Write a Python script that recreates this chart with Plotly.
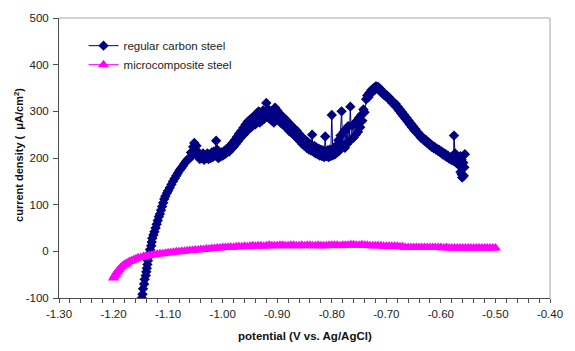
import plotly.graph_objects as go

# ---------------- data ----------------
carbon_x = [
    # steep rise
    -1.148, -1.147, -1.146, -1.144, -1.143, -1.141, -1.140, -1.139, -1.138, -1.137,
    -1.136, -1.134, -1.133, -1.131, -1.130, -1.129, -1.127, -1.125, -1.123, -1.121,
    -1.119, -1.117, -1.115, -1.113, -1.111, -1.109, -1.107, -1.105, -1.102, -1.100,
    -1.097, -1.094, -1.091, -1.088, -1.085, -1.082, -1.079, -1.076, -1.073, -1.070,
    -1.067, -1.064, -1.062,
    # noisy plateau, first hump and valley
    -1.060, -1.058, -1.056, -1.054, -1.052, -1.050, -1.048, -1.046, -1.044, -1.042,
    -1.040, -1.038, -1.036, -1.034, -1.032, -1.030, -1.028, -1.026, -1.024, -1.022,
    -1.020, -1.018, -1.016, -1.014, -1.012, -1.010, -1.008, -1.006, -1.004, -1.002,
    -1.000, -0.998, -0.996, -0.994, -0.992, -0.990, -0.988, -0.986, -0.984, -0.982,
    -0.980, -0.978, -0.976, -0.974, -0.972, -0.970, -0.968, -0.966, -0.964, -0.962,
    -0.960, -0.958, -0.956, -0.954, -0.952, -0.950, -0.948, -0.946, -0.944, -0.942,
    -0.940, -0.938, -0.936, -0.934, -0.932, -0.930, -0.928, -0.926, -0.924, -0.922,
    -0.920, -0.918, -0.916, -0.914, -0.912, -0.910, -0.908, -0.906, -0.904, -0.902,
    -0.900, -0.898, -0.896, -0.894, -0.892, -0.890, -0.888, -0.886, -0.884, -0.882,
    -0.880, -0.878, -0.876, -0.874, -0.872, -0.870, -0.868, -0.866, -0.864, -0.862,
    -0.860, -0.858, -0.856, -0.854, -0.852, -0.850, -0.848, -0.846, -0.844, -0.842,
    -0.840, -0.838, -0.836, -0.834, -0.832, -0.830, -0.828, -0.826, -0.824, -0.822,
    -0.820, -0.818, -0.816, -0.814, -0.812, -0.810, -0.808, -0.806, -0.804, -0.802,
    -0.800, -0.798, -0.796, -0.794, -0.792, -0.790, -0.788, -0.786, -0.784, -0.782,
    -0.780, -0.778, -0.776, -0.774, -0.772, -0.770, -0.768, -0.766, -0.764, -0.762,
    -0.760, -0.758, -0.756, -0.754, -0.752, -0.750, -0.748, -0.746, -0.744, -0.742,
    -0.740,
    # second peak and decline
    -0.737, -0.735, -0.733, -0.731, -0.729, -0.727, -0.725, -0.723, -0.721, -0.719,
    -0.717, -0.715, -0.713, -0.711, -0.709, -0.707, -0.705, -0.703, -0.701, -0.699,
    -0.697, -0.695, -0.693, -0.691, -0.689, -0.687, -0.685, -0.683, -0.681, -0.679,
    -0.677, -0.675, -0.673, -0.671, -0.669, -0.667, -0.665, -0.663, -0.661, -0.659,
    -0.657, -0.655, -0.653, -0.651, -0.649, -0.647, -0.645, -0.643, -0.641, -0.639,
    -0.637, -0.635, -0.633, -0.631, -0.629, -0.627, -0.625, -0.623, -0.621, -0.619,
    -0.617, -0.615, -0.613, -0.611, -0.609, -0.607, -0.605, -0.603, -0.601, -0.599,
    -0.597, -0.595, -0.593, -0.591, -0.589, -0.587, -0.585, -0.583, -0.581, -0.579,
    -0.577, -0.576, -0.574, -0.572, -0.570, -0.568, -0.566, -0.564, -0.562, -0.560,
    -0.562, -0.564, -0.561, -0.558, -0.557, -0.559, -0.556,
]
carbon_y = [
    # steep rise
    -100, -92, -80, -70, -60, -52, -44, -36, -28, -20,
    -12, -4, 4, 12, 20, 28, 35, 42, 50, 58,
    66, 74, 80, 88, 96, 104, 112, 118, 125, 130,
    136, 143, 150, 156, 162, 168, 174, 178, 183, 188,
    193, 197, 199,
    # noisy plateau, first hump and valley
    200, 212, 205, 224, 232, 215, 226, 205, 212, 198,
    206, 200, 210, 196, 205, 200, 210, 198, 206, 200,
    212, 202, 214, 205, 237, 218, 200, 210, 203, 212,
    205, 214, 208, 218, 212, 222, 214, 226, 220, 232,
    224, 238, 230, 245, 236, 252, 242, 258, 248, 265,
    252, 272, 258, 278, 262, 282, 266, 286, 270, 290,
    272, 295, 278, 300, 276, 292, 280, 302, 284, 296,
    318, 288, 304, 284, 298, 280, 294, 276, 308, 290,
    302, 282, 296, 276, 290, 272, 286, 268, 282, 264,
    276, 258, 272, 254, 266, 250, 262, 246, 258, 240,
    252, 236, 246, 230, 242, 226, 238, 222, 234, 218,
    230, 216, 250, 214, 226, 210, 222, 208, 220, 205,
    218, 204, 216, 202, 246, 204, 216, 202, 218, 204,
    292, 206, 222, 208, 226, 212, 238, 216, 248, 300,
    228, 256, 222, 262, 230, 268, 236, 310, 240, 270,
    244, 274, 250, 280, 256, 286, 266, 292, 280, 304,
    298,
    # second peak and decline
    326, 334, 330, 340, 338, 346, 342, 350, 346, 354,
    350, 352, 346, 348, 340, 342, 336, 338, 332, 334,
    328, 330, 324, 324, 318, 320, 314, 316, 308, 310,
    302, 304, 296, 298, 290, 292, 284, 286, 278, 280,
    272, 274, 266, 268, 260, 262, 255, 256, 250, 250,
    244, 246, 240, 241, 236, 238, 232, 234, 228, 230,
    224, 226, 221, 223, 218, 220, 215, 217, 212, 214,
    208, 211, 205, 208, 202, 205, 199, 201, 196, 198,
    194, 248, 210, 190, 188, 198, 184, 204, 196, 178,
    165, 170, 158, 162, 180, 190, 208,
]

micro_x = [
    -1.200, -1.198, -1.196, -1.194, -1.192, -1.190, -1.187, -1.184, -1.181, -1.178,
    -1.175, -1.171, -1.167, -1.163, -1.159, -1.155, -1.150, -1.145, -1.140, -1.135,
    -1.130, -1.125, -1.120, -1.115, -1.110, -1.105, -1.100, -1.095, -1.090, -1.085,
    -1.080, -1.075, -1.070, -1.065, -1.060, -1.055, -1.050, -1.045, -1.040, -1.035,
    -1.030, -1.025, -1.020, -1.015, -1.010, -1.005, -1.000, -0.995, -0.990, -0.985,
    -0.980, -0.975, -0.970, -0.965, -0.960, -0.955, -0.950, -0.945, -0.940, -0.935,
    -0.930, -0.925, -0.920, -0.915, -0.910, -0.905, -0.900, -0.895, -0.890, -0.885,
    -0.880, -0.875, -0.870, -0.865, -0.860, -0.855, -0.850, -0.845, -0.840, -0.835,
    -0.830, -0.825, -0.820, -0.815, -0.810, -0.805, -0.800, -0.795, -0.790, -0.785,
    -0.780, -0.775, -0.770, -0.765, -0.760, -0.755, -0.750, -0.745, -0.740, -0.735,
    -0.730, -0.725, -0.720, -0.715, -0.710, -0.705, -0.700, -0.695, -0.690, -0.685,
    -0.680, -0.675, -0.670, -0.665, -0.660, -0.655, -0.650, -0.645, -0.640, -0.635,
    -0.630, -0.625, -0.620, -0.615, -0.610, -0.605, -0.600, -0.595, -0.590, -0.585,
    -0.580, -0.575, -0.570, -0.565, -0.560, -0.555, -0.550, -0.545, -0.540, -0.535,
    -0.530, -0.525, -0.520, -0.515, -0.510, -0.505, -0.500,
]
micro_y = [
    -57, -53, -49, -45, -42, -39, -35, -32, -29, -27,
    -25, -22, -20, -18, -16, -14, -13, -11, -10, -9,
    -8, -7, -6, -5, -5, -4, -3, -3, -2, -1,
    -1, 0, 0, 1, 2, 2, 3, 3, 4, 4,
    5, 5, 6, 6, 7, 7, 8, 8, 9, 9,
    9, 10, 10, 10, 11, 10, 11, 12, 11, 12,
    12, 11, 12, 13, 12, 12, 12, 13, 13, 12,
    12, 13, 13, 12, 12, 13, 12, 13, 13, 12,
    12, 13, 12, 12, 12, 13, 13, 13, 13, 12,
    13, 13, 13, 14, 14, 13, 13, 14, 13, 13,
    12, 12, 12, 12, 12, 11, 11, 11, 11, 11,
    11, 10, 10, 8, 8, 8, 8, 8, 8, 8,
    8, 8, 8, 8, 8, 8, 8, 7, 8, 7,
    7, 7, 7, 7, 7, 7, 7, 7, 7, 7,
    7, 7, 7, 7, 7, 7, 7,
]

series_names = ["regular carbon steel", "microcomposite steel"]

x_tick_vals = [-1.30, -1.20, -1.10, -1.00, -0.90, -0.80, -0.70, -0.60, -0.50, -0.40]
x_tick_labels = ["-1.30", "-1.20", "-1.10", "-1.00", "-0.90", "-0.80", "-0.70", "-0.60", "-0.50", "-0.40"]
y_tick_vals = [-100, 0, 100, 200, 300, 400, 500]
y_tick_labels = ["-100", "0", "100", "200", "300", "400", "500"]

# ---------------- figure ----------------
FONT = "Liberation Sans, Arial, sans-serif"
AXIS_COLOR = "#4d4d4d"

fig = go.Figure()
fig.add_trace(go.Scatter(
    x=carbon_x, y=carbon_y, name=series_names[0], mode="lines+markers",
    line=dict(color="#000080", width=1),
    marker=dict(symbol="diamond", size=8, color="#000080"),
))
fig.add_trace(go.Scatter(
    x=micro_x, y=micro_y, name=series_names[1], mode="lines+markers",
    line=dict(color="#FF00FF", width=1),
    marker=dict(symbol="triangle-up", size=10, color="#FF00FF"),
))

fig.update_layout(
    width=575, height=351,
    margin=dict(l=59, r=16, t=14, b=53),
    paper_bgcolor="white", plot_bgcolor="white",
    font=dict(family=FONT, size=11.5, color="#222222"),
    showlegend=True,
    legend=dict(
        x=0.05, y=0.953, xanchor="left", yanchor="top",
        bgcolor="rgba(0,0,0,0)", borderwidth=0,
        font=dict(family=FONT, size=11.5, color="#222222"),
    ),
    xaxis=dict(
        range=[-1.30, -0.40], tickvals=x_tick_vals, ticktext=x_tick_labels,
        showgrid=False, zeroline=False, showline=True, linecolor=AXIS_COLOR, linewidth=1,
        ticks="outside", ticklen=4, tickcolor=AXIS_COLOR, ticklabelstandoff=1,
        minor=dict(dtick=0.02, tick0=-1.30, ticks="outside", ticklen=4, tickcolor=AXIS_COLOR, showgrid=False),
        tickfont=dict(size=11.5),
    ),
    yaxis=dict(
        range=[-100, 500], tickvals=y_tick_vals, ticktext=y_tick_labels,
        showgrid=False, zeroline=False, showline=True, linecolor=AXIS_COLOR, linewidth=1,
        ticks="outside", ticklen=5, tickcolor=AXIS_COLOR, ticklabelstandoff=2,
        tickfont=dict(size=11.5),
    ),
    shapes=[
        dict(type="line", xref="paper", yref="paper", x0=0, x1=1, y0=1, y1=1,
             line=dict(color="#a6a6a6", width=1)),
        dict(type="line", xref="paper", yref="paper", x0=1, x1=1, y0=0, y1=1,
             line=dict(color="#a6a6a6", width=1)),
    ],
    annotations=[
        dict(text="<b>potential (V vs. Ag/AgCl)</b>", xref="paper", yref="paper",
             x=0.5, y=-0.137, xanchor="center", yanchor="middle", showarrow=False,
             font=dict(size=11.5, color="#111111")),
        dict(text="<b>current density (  μA/cm<sup>2</sup>)</b>", xref="paper", yref="paper",
             x=-0.082, y=0.51, xanchor="center", yanchor="middle", showarrow=False,
             textangle=-90, font=dict(size=11, color="#111111")),
    ],
)

fig.write_html("out.html")
